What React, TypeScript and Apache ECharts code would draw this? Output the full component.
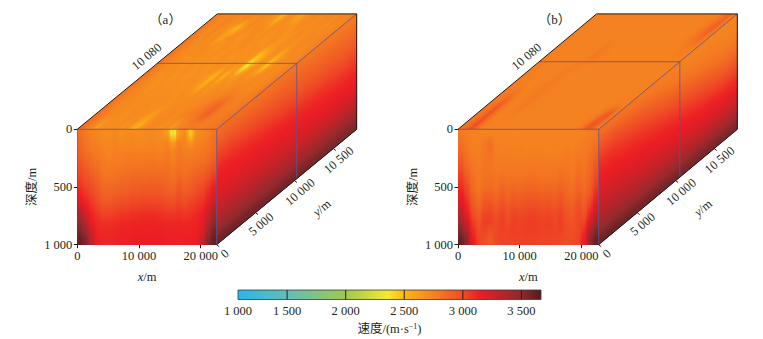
import React, { useEffect, useRef } from "react";
import * as echarts from "echarts";

// Colour scale (velocity, m/s)
const colorbarMin = 1081;
const colorbarMax = 3667;
const scaleValues = [1081, 1500, 2000, 2360, 2500, 2750, 3000, 3150, 3500, 3667];
const scaleColors = ["#2ab5e9", "#63bdb8", "#9fc94f", "#f4e92f", "#fcb616", "#f58220", "#ee4a25", "#ed1c24", "#8a2b2f", "#5a1a1c"];
const colorbarTicks = [1500, 2000, 2500, 3000, 3500];
const colorbarLabelAt = [1081, 1500, 2000, 2500, 3000, 3500];
const colorbarLabels = ["1 000", "1 500", "2 000", "2 500", "3 000", "3 500"];

// Axis ticks
const xTicks = [0, 10000, 20000];
const yTicks = [0, 5000, 10000, 15000];
const yTickLabels = ["0", "5 000", "10 000", "10 500"];
const sliceLabel = "10 080";
const panelNames = ["（a）", "（b）"];

// Panel (a): front face, 13 depth rows x 24 x columns
const frontA = [
  [2830, 2790, 2750, 2730, 2710, 2700, 2730, 2690, 2710, 2720, 2700, 2710, 2720, 2710, 2700, 2630, 2280, 2630, 2710, 2440, 2690, 2730, 2760, 2810],
  [2860, 2810, 2770, 2750, 2720, 2720, 2750, 2720, 2730, 2740, 2720, 2730, 2740, 2730, 2720, 2740, 2630, 2760, 2740, 2670, 2740, 2760, 2790, 2840],
  [2890, 2840, 2800, 2780, 2750, 2740, 2760, 2750, 2760, 2770, 2760, 2760, 2770, 2760, 2750, 2780, 2740, 2790, 2770, 2760, 2780, 2800, 2820, 2870],
  [2930, 2880, 2840, 2810, 2780, 2760, 2770, 2770, 2790, 2790, 2790, 2790, 2800, 2790, 2780, 2810, 2760, 2810, 2800, 2800, 2820, 2830, 2860, 2920],
  [2980, 2920, 2880, 2850, 2800, 2790, 2800, 2810, 2820, 2830, 2830, 2830, 2830, 2830, 2830, 2840, 2800, 2840, 2820, 2840, 2860, 2880, 2920, 2990],
  [3030, 2970, 2930, 2880, 2830, 2820, 2830, 2850, 2850, 2870, 2870, 2870, 2880, 2870, 2870, 2860, 2830, 2890, 2850, 2880, 2910, 2930, 2980, 3070],
  [3080, 3020, 2980, 2920, 2860, 2860, 2870, 2890, 2890, 2910, 2910, 2920, 2920, 2920, 2920, 2890, 2880, 2940, 2890, 2920, 2960, 2990, 3060, 3150],
  [3150, 3080, 3020, 2960, 2910, 2900, 2920, 2940, 2940, 2960, 2960, 2970, 2970, 2970, 2960, 2940, 2930, 2980, 2940, 2970, 3010, 3040, 3120, 3220],
  [3250, 3150, 3070, 3010, 2960, 2960, 2980, 3000, 3000, 3020, 3020, 3030, 3030, 3030, 3020, 3000, 3000, 3030, 3000, 3030, 3060, 3090, 3190, 3320],
  [3350, 3230, 3120, 3060, 3020, 3020, 3040, 3060, 3060, 3080, 3080, 3090, 3090, 3090, 3080, 3060, 3060, 3080, 3060, 3080, 3110, 3140, 3270, 3420],
  [3450, 3320, 3160, 3100, 3080, 3080, 3090, 3110, 3110, 3120, 3120, 3130, 3130, 3130, 3120, 3110, 3110, 3120, 3110, 3120, 3130, 3170, 3340, 3510],
  [3550, 3430, 3230, 3120, 3110, 3110, 3120, 3130, 3130, 3140, 3140, 3140, 3140, 3140, 3140, 3130, 3130, 3130, 3130, 3130, 3140, 3210, 3430, 3580],
  [3620, 3540, 3320, 3140, 3120, 3120, 3130, 3140, 3140, 3150, 3150, 3150, 3150, 3150, 3150, 3140, 3140, 3140, 3140, 3140, 3160, 3280, 3520, 3630],
];

// Panel (a): top face, 12 y rows (back to front) x 28 x columns
const topA = [
  [2770, 2740, 2720, 2750, 2730, 2710, 2740, 2720, 2700, 2730, 2710, 2690, 2660, 2520, 2680, 2710, 2640, 2600, 2690, 2710, 2730, 2700, 2720, 2730, 2710, 2740, 2730, 2760],
  [2780, 2730, 2710, 2740, 2710, 2690, 2620, 2500, 2660, 2710, 2690, 2710, 2700, 2680, 2710, 2690, 2710, 2700, 2670, 2710, 2690, 2710, 2700, 2720, 2700, 2730, 2720, 2750],
  [2790, 2750, 2700, 2730, 2690, 2710, 2600, 2660, 2710, 2690, 2670, 2700, 2720, 2690, 2700, 2670, 2690, 2710, 2690, 2660, 2700, 2720, 2690, 2710, 2730, 2710, 2740, 2750],
  [2800, 2760, 2720, 2690, 2710, 2720, 2700, 2690, 2670, 2710, 2700, 2680, 2700, 2710, 2680, 2700, 2670, 2690, 2640, 2660, 2690, 2700, 2670, 2700, 2720, 2700, 2730, 2760],
  [2810, 2750, 2730, 2710, 2690, 2700, 2710, 2680, 2700, 2690, 2670, 2710, 2690, 2670, 2700, 2680, 2700, 2670, 2440, 2540, 2660, 2690, 2530, 2650, 2710, 2720, 2710, 2750],
  [2800, 2740, 2710, 2700, 2710, 2680, 2690, 2710, 2680, 2700, 2690, 2670, 2700, 2690, 2660, 2690, 2650, 2640, 2330, 2550, 2680, 2650, 2450, 2680, 2700, 2710, 2730, 2760],
  [2810, 2760, 2720, 2690, 2700, 2710, 2670, 2700, 2690, 2670, 2700, 2690, 2670, 2640, 2500, 2670, 2540, 2680, 2640, 2680, 2700, 2680, 2690, 2710, 2720, 2700, 2740, 2770],
  [2800, 2750, 2730, 2710, 2680, 2690, 2700, 2680, 2700, 2690, 2680, 2700, 2690, 2650, 2560, 2690, 2660, 2690, 2700, 2680, 2710, 2730, 2720, 2730, 2710, 2730, 2750, 2780],
  [2810, 2760, 2740, 2720, 2700, 2710, 2690, 2710, 2690, 2710, 2700, 2680, 2710, 2700, 2690, 2710, 2700, 2710, 2720, 2730, 2740, 2770, 2780, 2760, 2750, 2740, 2770, 2790],
  [2820, 2770, 2730, 2710, 2720, 2690, 2710, 2700, 2720, 2690, 2710, 2700, 2690, 2710, 2720, 2700, 2720, 2730, 2740, 2770, 2800, 2850, 2880, 2810, 2770, 2760, 2780, 2800],
  [2830, 2780, 2740, 2720, 2710, 2700, 2690, 2720, 2700, 2710, 2670, 2620, 2680, 2720, 2710, 2730, 2710, 2740, 2760, 2780, 2800, 2860, 2910, 2820, 2780, 2770, 2790, 2810],
  [2840, 2780, 2730, 2640, 2690, 2710, 2700, 2710, 2690, 2700, 2620, 2540, 2660, 2710, 2730, 2710, 2690, 2720, 2650, 2720, 2750, 2780, 2790, 2780, 2760, 2780, 2800, 2820],
];

// Panel (a): side face, 13 depth rows x 5 y columns
const sideA = [
  [2860, 2840, 2830, 2810, 2790],
  [2920, 2900, 2880, 2860, 2840],
  [2990, 2960, 2930, 2910, 2890],
  [3050, 3020, 2990, 2960, 2940],
  [3110, 3080, 3050, 3020, 3000],
  [3150, 3130, 3110, 3080, 3060],
  [3180, 3170, 3150, 3130, 3110],
  [3220, 3210, 3190, 3170, 3150],
  [3270, 3260, 3240, 3220, 3200],
  [3330, 3320, 3300, 3280, 3270],
  [3400, 3390, 3370, 3360, 3350],
  [3480, 3470, 3460, 3450, 3440],
  [3580, 3570, 3560, 3550, 3540],
];

// Panel (b): front face
const frontB = [
  [2800, 2770, 2750, 2750, 2745, 2745, 2750, 2750, 2750, 2745, 2750, 2750, 2750, 2750, 2750, 2750, 2750, 2750, 2750, 2750, 2750, 2755, 2770, 2790],
  [2830, 2790, 2760, 2755, 2790, 2830, 2760, 2750, 2755, 2750, 2755, 2750, 2750, 2755, 2750, 2750, 2755, 2750, 2755, 2750, 2760, 2770, 2790, 2820],
  [2870, 2810, 2770, 2760, 2800, 2840, 2770, 2760, 2765, 2760, 2765, 2760, 2760, 2765, 2760, 2760, 2760, 2760, 2770, 2765, 2780, 2790, 2810, 2860],
  [2930, 2840, 2790, 2770, 2810, 2820, 2780, 2780, 2780, 2775, 2780, 2775, 2780, 2780, 2775, 2780, 2780, 2780, 2790, 2780, 2810, 2800, 2840, 2920],
  [2990, 2880, 2810, 2780, 2810, 2810, 2790, 2800, 2800, 2800, 2800, 2800, 2800, 2800, 2800, 2800, 2800, 2810, 2810, 2790, 2830, 2810, 2860, 2970],
  [3050, 2940, 2840, 2790, 2820, 2830, 2810, 2840, 2820, 2830, 2820, 2830, 2840, 2830, 2820, 2830, 2820, 2850, 2830, 2810, 2860, 2830, 2880, 3010],
  [3100, 3000, 2860, 2800, 2850, 2860, 2830, 2870, 2850, 2870, 2860, 2870, 2880, 2870, 2860, 2870, 2860, 2890, 2860, 2830, 2890, 2850, 2910, 3060],
  [3170, 3050, 2900, 2830, 2900, 2910, 2870, 2920, 2890, 2920, 2900, 2920, 2930, 2920, 2910, 2920, 2900, 2940, 2890, 2860, 2930, 2880, 2960, 3130],
  [3240, 3110, 2950, 2870, 2950, 2970, 2920, 2970, 2930, 2970, 2950, 2970, 2980, 2970, 2960, 2970, 2950, 2990, 2930, 2900, 2970, 2920, 3030, 3220],
  [3330, 3170, 3000, 2920, 3010, 3020, 2970, 3020, 2970, 3020, 3000, 3020, 3030, 3020, 3010, 3020, 2990, 3030, 2960, 2930, 3000, 2960, 3120, 3320],
  [3430, 3270, 3060, 2970, 3040, 3040, 3000, 3040, 3000, 3040, 3020, 3040, 3050, 3040, 3030, 3040, 3010, 3040, 2980, 2960, 3010, 3020, 3240, 3430],
  [3540, 3390, 3120, 3000, 3020, 2970, 3000, 3030, 3020, 3040, 3030, 3040, 3040, 3040, 3030, 3030, 3020, 3030, 2990, 2980, 3000, 3090, 3370, 3540],
  [3620, 3510, 3180, 3020, 2990, 2930, 3000, 3020, 3020, 3030, 3030, 3030, 3030, 3030, 3020, 3020, 3010, 3010, 2990, 2990, 3020, 3170, 3490, 3620],
];

// Panel (b): top face
const topB = [
  [2755, 2750, 2750, 2750, 2750, 2750, 2750, 2750, 2750, 2750, 2750, 2750, 2750, 2750, 2750, 2750, 2750, 2750, 2750, 2750, 2750, 2750, 2755, 2760, 2770, 2810, 2900, 2800],
  [2755, 2750, 2750, 2750, 2750, 2750, 2750, 2750, 2750, 2750, 2750, 2750, 2750, 2750, 2750, 2750, 2750, 2750, 2750, 2750, 2750, 2750, 2755, 2760, 2790, 2850, 2910, 2800],
  [2760, 2750, 2750, 2750, 2750, 2750, 2750, 2750, 2750, 2755, 2750, 2750, 2750, 2750, 2750, 2750, 2750, 2750, 2750, 2750, 2750, 2750, 2755, 2760, 2780, 2830, 2860, 2780],
  [2765, 2755, 2750, 2750, 2750, 2750, 2750, 2750, 2755, 2790, 2770, 2755, 2750, 2750, 2750, 2750, 2750, 2750, 2750, 2750, 2750, 2750, 2750, 2755, 2760, 2780, 2780, 2770],
  [2765, 2755, 2750, 2750, 2750, 2750, 2750, 2755, 2760, 2790, 2780, 2760, 2750, 2750, 2750, 2750, 2750, 2750, 2750, 2750, 2750, 2750, 2750, 2750, 2755, 2760, 2760, 2760],
  [2770, 2760, 2755, 2750, 2750, 2750, 2750, 2760, 2770, 2760, 2755, 2750, 2750, 2750, 2750, 2750, 2750, 2750, 2750, 2750, 2750, 2750, 2750, 2750, 2750, 2755, 2755, 2755],
  [2775, 2765, 2760, 2750, 2750, 2755, 2760, 2780, 2770, 2755, 2750, 2750, 2750, 2750, 2750, 2750, 2750, 2750, 2750, 2750, 2750, 2750, 2750, 2750, 2750, 2750, 2755, 2755],
  [2785, 2775, 2770, 2755, 2750, 2760, 2775, 2790, 2770, 2755, 2750, 2750, 2750, 2750, 2750, 2750, 2750, 2750, 2750, 2750, 2750, 2750, 2750, 2750, 2750, 2755, 2755, 2760],
  [2790, 2800, 2840, 2790, 2755, 2755, 2770, 2800, 2770, 2755, 2750, 2750, 2750, 2750, 2750, 2750, 2750, 2750, 2750, 2750, 2750, 2750, 2750, 2750, 2755, 2755, 2760, 2760],
  [2790, 2830, 2930, 2820, 2760, 2755, 2765, 2790, 2765, 2755, 2750, 2750, 2750, 2750, 2750, 2750, 2750, 2750, 2750, 2750, 2750, 2750, 2750, 2755, 2760, 2770, 2780, 2770],
  [2800, 2850, 2960, 2830, 2760, 2755, 2760, 2765, 2755, 2750, 2750, 2750, 2750, 2750, 2750, 2750, 2750, 2750, 2750, 2750, 2750, 2750, 2750, 2760, 2790, 2880, 2950, 2800],
  [2810, 2870, 2980, 2850, 2770, 2755, 2755, 2755, 2750, 2750, 2750, 2750, 2750, 2750, 2750, 2750, 2750, 2750, 2750, 2750, 2750, 2750, 2755, 2770, 2830, 2960, 2900, 2800],
];

// Panel (b): side face, 13 depth rows x 5 y columns
const sideB = [
  [2840, 2800, 2770, 2750, 2745],
  [2920, 2860, 2800, 2770, 2755],
  [3000, 2940, 2860, 2810, 2780],
  [3060, 3010, 2930, 2870, 2820],
  [3110, 3070, 3000, 2940, 2880],
  [3150, 3120, 3070, 3010, 2950],
  [3190, 3160, 3130, 3080, 3030],
  [3240, 3200, 3170, 3140, 3110],
  [3290, 3250, 3220, 3190, 3170],
  [3340, 3310, 3280, 3260, 3240],
  [3410, 3380, 3360, 3340, 3330],
  [3490, 3470, 3450, 3440, 3430],
  [3590, 3570, 3560, 3550, 3540],
];

const FONT = '"Liberation Serif", "Noto Sans CJK SC", serif';
const TEXT = "#231f20";
const EDGE = "#1a1a1a";
const WIRE = "#5f5490";
const depthMax = 1000;
const yMax = 18000;

const panels = [
  { front: frontA, top: topA, side: sideA, left: 77.3, width: 139.4, xMax: 22590, backDx: 140, slice: 10290, titleX: 160.5 },
  { front: frontB, top: topB, side: sideB, left: 458, width: 140.7, xMax: 22820, backDx: 138.6, slice: 10540, titleX: 549.5 },
];
const boxTop = 129.3;
const boxHeight = 115.4;

function hexToRgb(h: string) {
  return [parseInt(h.slice(1, 3), 16), parseInt(h.slice(3, 5), 16), parseInt(h.slice(5, 7), 16)];
}
function velocityColor(v: number) {
  const n = scaleValues.length;
  if (v <= scaleValues[0]) return scaleColors[0];
  if (v >= scaleValues[n - 1]) return scaleColors[n - 1];
  let i = 0;
  while (v > scaleValues[i + 1]) i++;
  const f = (v - scaleValues[i]) / (scaleValues[i + 1] - scaleValues[i]);
  const a = hexToRgb(scaleColors[i]);
  const b = hexToRgb(scaleColors[i + 1]);
  const c = a.map((q, k) => Math.round(q + (b[k] - q) * f));
  return `rgb(${c[0]},${c[1]},${c[2]})`;
}

type P = (typeof panels)[number];
function project(p: P, x: number, y: number, d: number) {
  const shearX = (p.backDx / p.width) * p.xMax;
  return [x + (y / yMax) * shearX, d - (y / yMax) * depthMax];
}
const faceMaps: Record<string, (p: P, u: number, v: number) => number[]> = {
  front: (p, u, v) => project(p, u * p.xMax, 0, v * depthMax),
  top: (p, u, v) => project(p, u * p.xMax, (1 - v) * yMax, 0),
  side: (p, u, v) => project(p, p.xMax, u * yMax, v * depthMax),
};

function transpose(g: number[][]) {
  return g[0].map((_, c) => g.map((r) => r[c]));
}

// One data item per column of a face. Each column is painted as narrow strips whose
// gradients run through the column's values, eased towards the neighbouring column.
// Strips overlap the next ones by a few pixels so no background shows at their edges.
function faceSeries(pi: number, face: "front" | "top" | "side") {
  const p = panels[pi];
  const cols = transpose(p[face]);
  const map = faceMaps[face];
  const N = cols.length;
  return {
    type: "custom",
    xAxisIndex: pi,
    yAxisIndex: pi,
    silent: true,
    z: 2,
    clip: false,
    data: cols,
    renderItem: (params: any, api: any) => {
      const c = params.dataIndex;
      const o = api.coord(map(p, 0, 0));
      const su = api.coord(map(p, 1, 0));
      const tv = api.coord(map(p, 0, 1));
      const ux = su[0] - o[0];
      const uy = su[1] - o[1];
      const vx = tv[0] - o[0];
      const vy = tv[1] - o[1];
      const k = (vx * ux + vy * uy) / (ux * ux + uy * uy);
      const gx = vx - k * ux;
      const gy = vy - k * uy;
      const uLen = Math.hypot(ux, uy);
      const K = Math.max(2, Math.ceil(uLen / N / 2));
      const children: any[] = [];
      for (let q = 0; q < K; q++) {
        const s0 = (c + q / K) / N;
        const s1 = Math.min(1, (c + (q + 1) / K) / N + 4 / uLen);
        const pos = c + (q + 0.5) / K - 0.5;
        const a = Math.max(0, Math.min(N - 1, Math.floor(pos)));
        const b = Math.min(N - 1, a + 1);
        const t = Math.max(0, Math.min(1, pos - a));
        const f = face === "side" ? t : t * t * (3 - 2 * t);
        const stops = cols[a].map((v: number, j: number) => ({
          offset: (j + 0.5) / cols[a].length,
          color: velocityColor(v + (cols[b][j] - v) * f),
        }));
        children.push({
          type: "polygon",
          shape: {
            points: [map(p, s0, 0), map(p, s1, 0), map(p, s1, 1), map(p, s0, 1)].map((w) => api.coord(w)),
          },
          style: { fill: new echarts.graphic.LinearGradient(o[0], o[1], o[0] + gx, o[1] + gy, stops, true) },
          silent: true,
        });
      }
      return { type: "group", children };
    },
  };
}

function edgeSeries(pi: number, edges: number[][], color: string, width: number, z: number) {
  const p = panels[pi];
  return {
    type: "custom",
    xAxisIndex: pi,
    yAxisIndex: pi,
    silent: true,
    z,
    clip: false,
    data: edges,
    renderItem: (params: any, api: any) => {
      const e = edges[params.dataIndex];
      const a = api.coord(project(p, e[0], e[1], e[2]));
      const b = api.coord(project(p, e[3], e[4], e[5]));
      return {
        type: "line",
        shape: { x1: a[0], y1: a[1], x2: b[0], y2: b[1] },
        style: { stroke: color, lineWidth: width, fill: "none" },
      };
    },
  };
}

function obliqueTickSeries(pi: number) {
  const p = panels[pi];
  return {
    type: "custom",
    xAxisIndex: pi,
    yAxisIndex: pi,
    silent: true,
    z: 6,
    clip: false,
    data: yTicks,
    renderItem: (params: any, api: any) => {
      const y = yTicks[params.dataIndex];
      const c = api.coord(project(p, p.xMax, y, depthMax));
      return {
        type: "group",
        children: [
          { type: "line", shape: { x1: c[0], y1: c[1], x2: c[0] + 2.5, y2: c[1] + 2 }, style: { stroke: EDGE, lineWidth: 1 } },
          {
            type: "text",
            x: c[0] + (params.dataIndex ? 5.5 : 8),
            y: c[1] + (params.dataIndex ? 11.5 : 9),
            rotation: (40 * Math.PI) / 180,
            style: { text: yTickLabels[params.dataIndex], font: `12.5px ${FONT}`, fill: TEXT, align: "center", verticalAlign: "middle" },
          },
        ],
      };
    },
  };
}

function obliqueTextSeries(pi: number) {
  const p = panels[pi];
  const labels = [
    { text: "{i|y}/m", y: 9800, dx: 29, dy: 26 },
    { text: sliceLabel, y: 10080, dx: -9, dy: -8 },
  ];
  return {
    type: "custom",
    xAxisIndex: pi,
    yAxisIndex: pi,
    silent: true,
    z: 6,
    clip: false,
    data: labels.map((l) => l.y),
    renderItem: (params: any, api: any) => {
      const l = labels[params.dataIndex];
      const isSlice = params.dataIndex === 1;
      const c = isSlice
        ? api.coord(project(p, 0, l.y, 0))
        : api.coord(project(p, p.xMax, l.y, depthMax));
      return {
        type: "text",
        x: c[0] + l.dx,
        y: c[1] + l.dy,
        rotation: (40 * Math.PI) / 180,
        style: {
          text: l.text,
          font: `12.5px ${FONT}`,
          fill: TEXT,
          align: "center",
          verticalAlign: "middle",
          rich: { i: { font: `italic 12.5px ${FONT}`, fill: TEXT } },
        },
      };
    },
  };
}

const spaced = (v: number) => {
  const s = String(Math.round(v));
  return s.length > 3 ? s.slice(0, -3) + " " + s.slice(-3) : s;
};

function buildOption() {
  const grids: any[] = panels.map((p) => ({ left: p.left, width: p.width, top: boxTop, height: boxHeight, containLabel: false }));
  grids.push({ left: 238, width: 303, top: 290, height: 9.5 });

  const xAxes: any[] = panels.map((p, i) => ({
    type: "value",
    gridIndex: i,
    min: 0,
    max: p.xMax,
    splitLine: { show: false },
    axisLine: { show: true, onZero: false, lineStyle: { color: EDGE, width: 1 } },
    axisTick: { show: true, length: 3.5, customValues: xTicks, lineStyle: { color: EDGE } },
    axisLabel: { customValues: xTicks, color: TEXT, fontFamily: FONT, fontSize: 12.5, margin: 5, formatter: spaced },
    name: "{i|x}/m",
    nameLocation: "middle",
    nameGap: 26,
    nameTextStyle: { color: TEXT, fontFamily: FONT, fontSize: 12.5, rich: { i: { fontStyle: "italic", fontFamily: FONT, fontSize: 12.5, color: TEXT } } },
  }));
  xAxes.push({
    type: "value",
    gridIndex: 2,
    min: colorbarMin,
    max: colorbarMax,
    splitLine: { show: false },
    axisLine: { show: false },
    axisTick: { show: false },
    axisLabel: {
      customValues: colorbarLabelAt,
      color: TEXT,
      fontFamily: FONT,
      fontSize: 12.5,
      margin: 5,
      formatter: (v: number) => colorbarLabels[colorbarLabelAt.indexOf(v)] ?? "",
    },
    name: "{t|速度/(m·s}{s|−1}{t|)}",
    nameLocation: "middle",
    nameGap: 23,
    nameTextStyle: {
      rich: {
        t: { color: TEXT, fontFamily: FONT, fontSize: 12.5 },
        s: { color: TEXT, fontFamily: FONT, fontSize: 8, padding: [0, 0, 5, 0] },
      },
    },
  });

  const yAxes: any[] = panels.map((p, i) => ({
    type: "value",
    gridIndex: i,
    inverse: true,
    min: 0,
    max: depthMax,
    interval: 500,
    splitLine: { show: false },
    axisLine: { show: true, onZero: false, lineStyle: { color: "#3a3a3a", width: 1 } },
    axisTick: { show: true, length: 3.5, lineStyle: { color: EDGE } },
    axisLabel: { color: TEXT, fontFamily: FONT, fontSize: 12.5, margin: 5, formatter: spaced },
    name: "深度/m",
    nameLocation: "middle",
    nameRotate: 90,
    nameGap: 39,
    nameTextStyle: { color: TEXT, fontFamily: FONT, fontSize: 12.5 },
  }));
  yAxes.push({ type: "value", gridIndex: 2, min: 0, max: 1, show: false });

  const series: any[] = [];
  panels.forEach((p, i) => {
    (["top", "side", "front"] as const).forEach((f) => {
      series.push(faceSeries(i, f));
    });
    series.push(
      edgeSeries(
        i,
        [
          [0, 0, 0, p.xMax, 0, 0],
          [p.xMax, 0, 0, p.xMax, 0, depthMax],
          [p.xMax, 0, 0, p.xMax, yMax, 0],
          [0, p.slice, 0, p.xMax, p.slice, 0],
          [p.xMax, p.slice, 0, p.xMax, p.slice, depthMax],
        ],
        WIRE,
        0.8,
        5,
      ),
    );
    series.push(
      edgeSeries(
        i,
        [
          [0, 0, 0, 0, yMax, 0],
          [0, yMax, 0, p.xMax, yMax, 0],
          [p.xMax, 0, depthMax, p.xMax, yMax, depthMax],
          [p.xMax, yMax, 0, p.xMax, yMax, depthMax],
        ],
        EDGE,
        1,
        6,
      ),
    );
    series.push(obliqueTickSeries(i));
    series.push(obliqueTextSeries(i));
  });

  // colour bar
  series.push({
    type: "custom",
    xAxisIndex: 2,
    yAxisIndex: 2,
    silent: true,
    z: 3,
    data: [[colorbarMin, colorbarMax]],
    renderItem: (_: any, api: any) => {
      const a = api.coord([colorbarMin, 1]);
      const b = api.coord([colorbarMax, 0]);
      return {
        type: "rect",
        shape: { x: a[0], y: a[1], width: b[0] - a[0], height: b[1] - a[1] },
        style: {
          fill: new echarts.graphic.LinearGradient(
            0, 0, 1, 0,
            scaleValues.map((v, i) => ({ offset: (v - colorbarMin) / (colorbarMax - colorbarMin), color: scaleColors[i] })),
          ),
          stroke: "#3a3a3a",
          lineWidth: 0.8,
        },
      };
    },
  });
  series.push({
    type: "custom",
    xAxisIndex: 2,
    yAxisIndex: 2,
    silent: true,
    z: 4,
    data: colorbarTicks,
    renderItem: (params: any, api: any) => {
      const a = api.coord([colorbarTicks[params.dataIndex], 0]);
      const b = api.coord([colorbarTicks[params.dataIndex], 1]);
      return { type: "line", shape: { x1: a[0], y1: a[1], x2: b[0], y2: b[1] }, style: { stroke: "#222", lineWidth: 1 } };
    },
  });

  return {
    animation: false,
    backgroundColor: "#ffffff",
    title: panels.map((p, i) => ({
      text: panelNames[i],
      left: p.titleX,
      top: 14,
      textAlign: "center",
      textVerticalAlign: "middle",
      textStyle: { color: TEXT, fontFamily: FONT, fontSize: 13, fontWeight: "normal" },
    })),
    grid: grids,
    xAxis: xAxes,
    yAxis: yAxes,
    series,
  };
}

export default function App() {
  const ref = useRef<HTMLDivElement>(null);
  useEffect(() => {
    const chart = echarts.init(ref.current!, undefined, { renderer: "svg" });
    chart.setOption(buildOption() as any);
    return () => chart.dispose();
  }, []);
  return <div ref={ref} style={{ position: "fixed", left: 0, top: 0, width: 763, height: 339 }} />;
}
